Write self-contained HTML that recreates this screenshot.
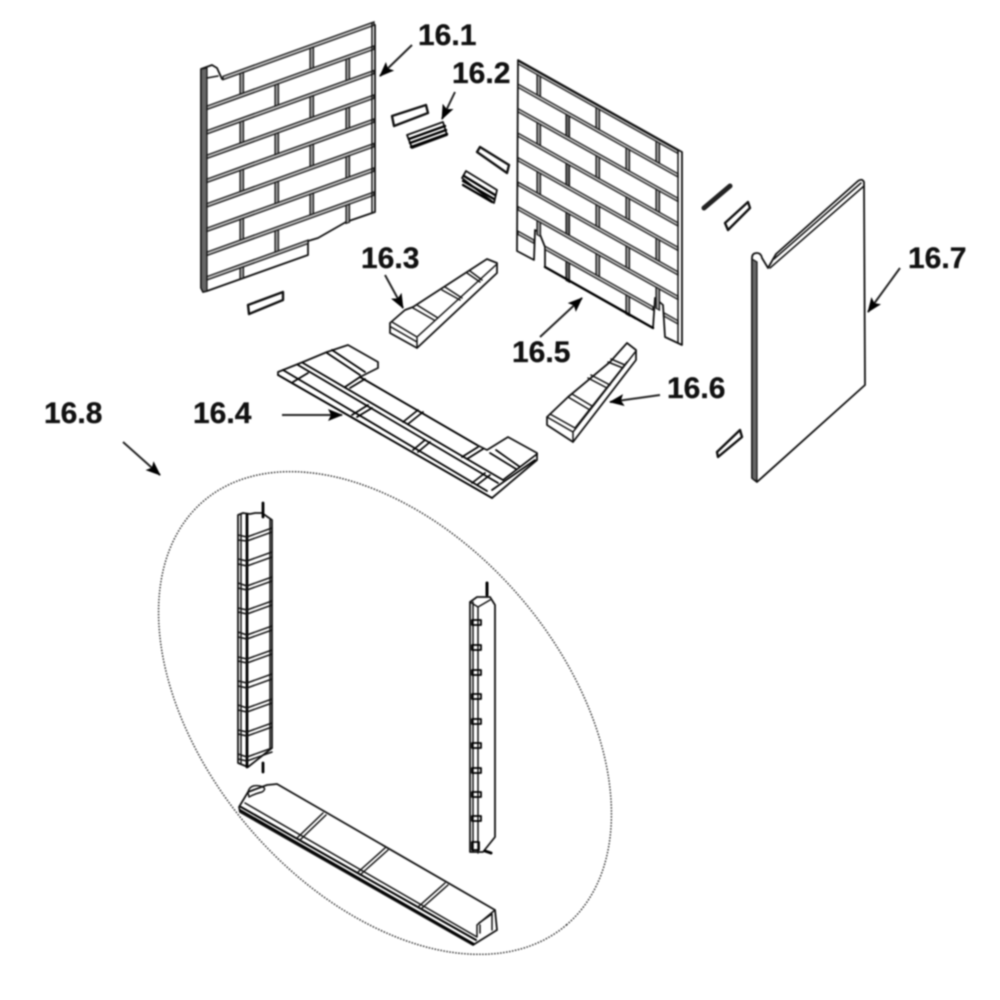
<!DOCTYPE html>
<html><head><meta charset="utf-8"><title>Firebrick assembly</title>
<style>
html,body{margin:0;padding:0;background:#fff;width:1000px;height:1000px;overflow:hidden}
svg{display:block;filter:blur(.7px)}
text{font-family:"Liberation Sans",sans-serif;font-weight:700;font-size:30px;fill:#111;stroke:#111;stroke-width:.3}
.o{fill:#fff;stroke:#111;stroke-width:1.8;stroke-linejoin:round}
.l{fill:none;stroke:#111;stroke-width:1.5;stroke-linecap:round;stroke-linejoin:round}
.t{fill:none;stroke:#000;stroke-width:2.4;stroke-linecap:round;stroke-linejoin:round}
.m{fill:#bbb;stroke:#111;stroke-width:1.3}
.j{fill:#999;stroke:#111;stroke-width:1.2}
.g{fill:#666;stroke:#111;stroke-width:1.2}
.a{fill:none;stroke:#222;stroke-width:2;marker-end:url(#ah)}
</style></head><body>
<svg width="1000" height="1000" viewBox="0 0 1000 1000" xmlns="http://www.w3.org/2000/svg">
<defs>
<marker id="ah" markerUnits="userSpaceOnUse" markerWidth="18" markerHeight="14" refX="14" refY="6" orient="auto">
<path d="M0 0L15 6L0 12L3 6Z" fill="#000"/>
</marker>
</defs>
<rect width="1000" height="1000" fill="#fff"/>

<!-- 16.1 left panel -->
<path class="o" d="M201 69L212 65L217 68L222 79L372 23L375 25L375 212L346 222L318 238L308 241L308 255L207 291L203 292L201 288Z"/>
<path class="g" d="M201 69L207 68L207 291L203 292L201 288Z"/>
<g transform="matrix(1,-0.36,0,1,207,83)">
<rect class="m" x="16" y="-1" width="151" height="3.5"/>
<rect class="m" x="0" y="23" width="167" height="3.5"/>
<rect class="m" x="0" y="47.5" width="167" height="3.5"/>
<rect class="m" x="0" y="72" width="167" height="3.5"/>
<rect class="m" x="0" y="96" width="167" height="3.5"/>
<rect class="m" x="0" y="120.5" width="167" height="3.5"/>
<rect class="m" x="0" y="145" width="167" height="3.5"/>
<rect class="m" x="0" y="169" width="167" height="3.5"/>
<rect class="m" x="0" y="193.5" width="101" height="3.5"/>
<rect class="j" x="33" y="2.5" width="3.5" height="20.5"/><rect class="j" x="103" y="2.5" width="3.5" height="20.5"/>
<rect class="j" x="68" y="26.5" width="3.5" height="21"/><rect class="j" x="139" y="26.5" width="3.5" height="21"/>
<rect class="j" x="33" y="51" width="3.5" height="21"/><rect class="j" x="103" y="51" width="3.5" height="21"/>
<rect class="j" x="68" y="75.5" width="3.5" height="20.5"/><rect class="j" x="139" y="75.5" width="3.5" height="20.5"/>
<rect class="j" x="33" y="99.5" width="3.5" height="21"/><rect class="j" x="103" y="99.5" width="3.5" height="21"/>
<rect class="j" x="68" y="124" width="3.5" height="21"/><rect class="j" x="139" y="124" width="3.5" height="21"/>
<rect class="j" x="33" y="148.5" width="3.5" height="20.5"/><rect class="j" x="103" y="148.5" width="3.5" height="20.5"/>
<rect class="j" x="68" y="172.5" width="3.5" height="21"/><rect class="j" x="139" y="172.5" width="3.5" height="18"/>
<rect class="j" x="33" y="197" width="3.5" height="11"/>
</g>
<path class="l" d="M372 23V212M207 78L218 76"/>

<!-- 16.5 right panel -->
<path class="o" d="M518 60L682 152L682 345L665 337L663 305L655 298L653 328L545 267L545 247L539 232L535 230L534 260L517 251Z"/>
<g transform="matrix(1,0.56,0,1,518,60)">
<rect class="m" x="0" y="1" width="160" height="3"/>
<rect class="m" x="0" y="24" width="160" height="3.5"/>
<rect class="m" x="0" y="48.5" width="160" height="3.5"/>
<rect class="m" x="0" y="73" width="160" height="3.5"/>
<rect class="m" x="0" y="97.5" width="160" height="3.5"/>
<rect class="m" x="0" y="122" width="160" height="3.5"/>
<rect class="m" x="0" y="146.5" width="160" height="3.5"/>
<rect class="m" x="0" y="171" width="16" height="3.5"/><rect class="m" x="27" y="171" width="108" height="3.5"/><rect class="m" x="146" y="171" width="14" height="3.5"/>
<rect class="j" x="19" y="4" width="3.5" height="20"/><rect class="j" x="78" y="4" width="3.5" height="20"/><rect class="j" x="138" y="4" width="3.5" height="20"/>
<rect class="g" x="48" y="27.5" width="3.5" height="21"/><rect class="j" x="108" y="27.5" width="3.5" height="21"/>
<rect class="j" x="19" y="52" width="3.5" height="21"/><rect class="j" x="78" y="52" width="3.5" height="21"/><rect class="j" x="138" y="52" width="3.5" height="21"/>
<rect class="g" x="48" y="76.5" width="3.5" height="21"/><rect class="j" x="108" y="76.5" width="3.5" height="21"/>
<rect class="j" x="19" y="101" width="3.5" height="21"/><rect class="j" x="78" y="101" width="3.5" height="21"/><rect class="j" x="138" y="101" width="3.5" height="21"/>
<rect class="g" x="48" y="125.5" width="3.5" height="21"/><rect class="j" x="108" y="125.5" width="3.5" height="21"/>
<rect class="j" x="19" y="150" width="3.5" height="14"/><rect class="j" x="78" y="150" width="3.5" height="21"/><rect class="j" x="138" y="150" width="3.5" height="21"/>
<rect class="g" x="48" y="174.5" width="3.5" height="19"/><rect class="j" x="108" y="174.5" width="3.5" height="19"/>
</g>
<path class="l" d="M678 150V343"/>
<path class="t" d="M545 267L653 328"/>

<!-- 16.7 side panel -->
<path class="o" d="M752 258Q752 253 757 253Q761 253 762 258L768 268L776 254L858 181Q862 178 864 182L865 385L757 482L752 478Z"/>
<path class="g" d="M752 259L757 262V481L754 480L752 478Z"/>
<path class="l" d="M770 268L864 186M774 259L861 183"/>

<!-- small clips -->
<path class="o" style="stroke-width:2.4" d="M392 116L426 105L428 113L394 126Z"/>
<path class="o" d="M407 135L443 122L447 135L412 148Z"/>
<path class="t" d="M409 139L445 126M410 143L446 130M411 147L447 134"/>
<path class="o" style="stroke-width:2.4" d="M477 152L480 147L509 165L507 173Z"/>
<path class="o" d="M462 178L466 171L497 190L494 203Z"/>
<path class="t" d="M464 176L495 195M463 181L494 199M463 185L492 202"/>
<path class="o" style="stroke-width:2.4" d="M248 305L283 292L283 300L249 314Z"/>
<path class="t" style="stroke-width:5;stroke:#222" d="M704 208L730 186"/>
<path class="o" style="stroke-width:2.4" d="M725 223L748 202L750 208L728 230Z"/>
<path class="o" style="stroke-width:2.4" d="M717 452L740 430L742 437L718 457Z"/>

<!-- 16.3 -->
<path class="o" d="M390 323L390 333L417 348L497 273L497 263L487 259L413 307L405 310Z"/>
<path class="l" d="M392 322L417 337L497 264M391 327L417 342M417 338V348M417 305L438 318M413 308L434 320M442 290L460 300M445 287L462 298M467 273L480 282M470 271L482 280"/>

<!-- 16.4 -->
<path class="o" d="M278 372L303 362L327 352L348 345L378 362V368L360 377L477 445L487 450L508 437L537 453V460L492 498L278 375Z"/>
<path class="t" style="stroke-width:1.8" d="M278 375L492 498M283 370L487 491M303 363L503 480M298 365L498 483M327 353L360 375M332 350L365 372M360 377L477 445"/>
<path class="t" style="stroke-width:1.7" d="M293 382L308 373M345 387L360 377M352 415L368 405M403 422L418 410M413 450L425 440M462 457L478 447M472 483L485 473M496 450L520 467M490 453L516 469M503 480L537 454M492 490L535 460M350 388L365 379M357 417L372 408M408 424L423 412M418 452L430 442M467 459L483 449M477 485L490 475"/>

<!-- 16.6 -->
<path class="o" d="M547 417V425L573 442L636 360V350L627 343L610 362L568 397Z"/>
<path class="l" d="M547 417L573 432L636 351M550 414L575 428L627 362M573 432V442M568 397L590 410M572 394L592 406M588 378L607 388M591 375L610 385M608 362L623 368M611 359L625 365"/>

<!-- ellipse -->
<ellipse cx="385" cy="713" rx="279" ry="178" transform="rotate(49.35 385 713)" fill="none" stroke="#222" stroke-width="1.4" stroke-dasharray="1.5 1.5"/>

<!-- 16.8 left strip -->
<path class="o" d="M238 515L243 513L250 514L255 513L262 513L272 520L272 748L248 767L238 763Z"/>
<path class="t" style="stroke-width:2.8" d="M247 515V767M263 503V517M263 763V772"/>
<path class="l" d="M241 515V763M270 520V748"/>
<path class="l" d="M238 535L247 537L272 528M238 540L247 541L272 532M238 559L247 561L272 552M238 564L247 566L272 557M238 583L247 586L272 577M238 588L247 590L272 581M238 608L247 610L272 601M238 612L247 614L272 605M238 632L247 635L272 626M238 637L247 639L272 630M238 657L247 659L272 650M238 661L247 663L272 654M238 681L247 683L272 674M238 686L247 688L272 679M238 705L247 708L272 699M238 710L247 712L272 703M238 730L247 732L272 723M238 734L247 736L272 727M238 754L247 757L272 748M238 759L247 761L272 752"/>

<!-- 16.8 right strip -->
<path class="o" d="M470 602L477 597L490 597L495 605V837L483 852L470 852Z"/>
<path class="l" d="M473 602V852M478 607V853M478 607L490 600M470 602L478 607"/>
<path class="t" style="stroke-width:3" d="M487 583V595M485 851L491 853"/>
<path class="t" style="stroke-width:1.8" d="M472 620H481V625H472ZM472 645H481V650H472ZM472 670H481V675H472ZM472 694H481V699H472ZM472 719H481V724H472ZM472 743H481V748H472ZM472 768H481V773H472ZM472 792H481V797H472ZM472 816H481V821H472ZM472 842H479V850H472Z"/>

<!-- 16.8 bottom strip -->
<path class="o" d="M239 807L248 792L267 785L277 784L495 910L497 930L473 945L240 812Z"/>
<path class="t" style="stroke-width:2" d="M240 810L474 944M241 807L476 940"/>
<path class="l" d="M245 803L477 937L477 925L495 910M248 792Q250 784 260 786Q268 788 262 792Q254 794 249 797Z"/>
<path class="l" d="M297 838L323 813M300 840L326 815M357 873L385 848M360 875L388 850M418 907L445 883M421 909L448 885M479 923L492 914V930M480 925V933"/>

<!-- arrows -->
<line class="a" x1="412" y1="45" x2="380" y2="76"/>
<line class="a" x1="455" y1="92" x2="442" y2="119"/>
<line class="a" x1="385" y1="275" x2="403" y2="308"/>
<line class="a" x1="282" y1="415" x2="342" y2="415"/>
<line class="a" x1="540" y1="337" x2="582" y2="298"/>
<line class="a" x1="660" y1="395" x2="610" y2="402"/>
<line class="a" x1="900" y1="268" x2="868" y2="312"/>
<line class="a" x1="123" y1="442" x2="160" y2="475"/>

<!-- labels -->
<text x="418" y="45">16.1</text>
<text x="452" y="83">16.2</text>
<text x="361" y="268">16.3</text>
<text x="193" y="423">16.4</text>
<text x="512" y="362">16.5</text>
<text x="667" y="398">16.6</text>
<text x="908" y="268">16.7</text>
<text x="44" y="423">16.8</text>
</svg>
</body></html>
